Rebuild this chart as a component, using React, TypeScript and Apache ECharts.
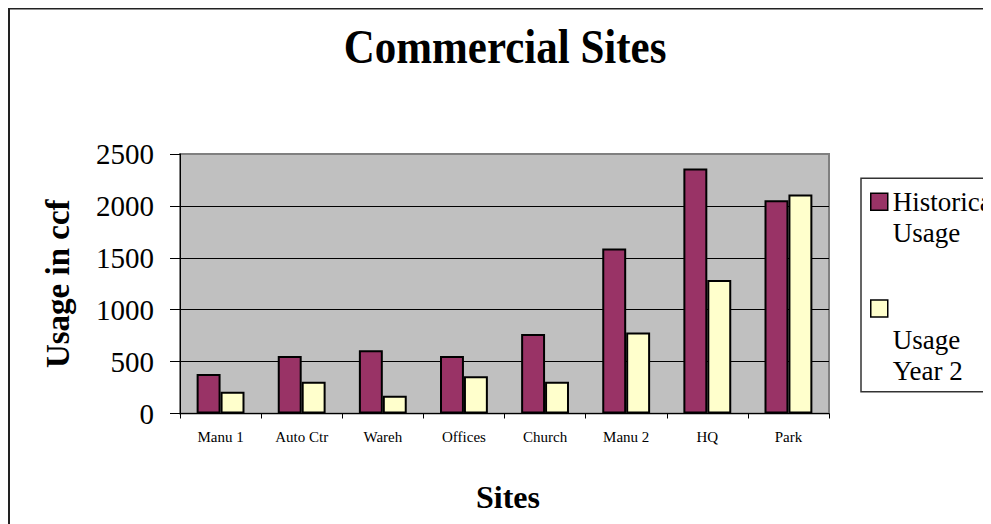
import React, { useEffect, useRef } from "react";
import * as echarts from "echarts";

const categories = ["Manu 1", "Auto Ctr", "Wareh", "Offices", "Church", "Manu 2", "HQ", "Park"];
const historicalUsage = [380, 555, 610, 555, 765, 1590, 2360, 2055];
const usageYear2 = [210, 305, 170, 360, 305, 780, 1285, 2110];
const seriesNames = ["Historical Usage", "Usage Year 2"];
const yTicks = { min: 0, max: 2500, interval: 500 };

const FONT = '"Liberation Serif", "Times New Roman", serif';

export default function App() {
  const ref = useRef<HTMLDivElement>(null);

  useEffect(() => {
    if (!ref.current) return;
    const chart = echarts.init(ref.current, undefined, { renderer: "svg" });
    chart.setOption({
      animation: false,
      backgroundColor: "#ffffff",
      textStyle: { fontFamily: FONT },
      graphic: [
        {
          type: "rect",
          z: 0,
          shape: { x: 1, y: 0.5, width: 1200, height: 1200 },
          style: { fill: "none", stroke: "#222", lineWidth: 2 },
          silent: true,
        },
        {
          type: "rect",
          z: 0,
          shape: { x: 853, y: 170.3, width: 300, height: 213.5 },
          style: { fill: "#fff", stroke: "#333", lineWidth: 1.5 },
          silent: true,
        },
        {
          type: "text",
          z: 5,
          x: 497,
          y: 38.7,
          scaleY: 1.12,
          style: {
            text: "Commercial Sites",
            font: `bold 43px ${FONT}`,
            fill: "#000",
            textAlign: "center",
            textVerticalAlign: "middle",
          },
        },
        {
          type: "text",
          z: 5,
          x: 500,
          y: 488.5,
          style: {
            text: "Sites",
            font: `bold 32px ${FONT}`,
            fill: "#000",
            textAlign: "center",
            textVerticalAlign: "middle",
          },
        },
      ],
      legend: [
        {
          data: [seriesNames[0]],
          orient: "vertical",
          left: 862,
          top: 147.3,
          padding: 0,
          z: 10,
          icon: "rect",
          itemWidth: 17,
          itemHeight: 17,
          itemGap: 0,
          selectedMode: false,
          itemStyle: { borderColor: "#000", borderWidth: 1.5 },
          formatter: () => "\nHistorical\nUsage",
          textStyle: {
            fontFamily: FONT,
            fontSize: 27,
            color: "#000",
            lineHeight: 31,
          },
        },
        {
          data: [seriesNames[1]],
          orient: "vertical",
          left: 862,
          top: 223,
          padding: 0,
          z: 10,
          icon: "rect",
          itemWidth: 17,
          itemHeight: 17,
          itemGap: 0,
          selectedMode: false,
          itemStyle: { borderColor: "#000", borderWidth: 1.5 },
          formatter: () => "\n\n\nUsage\nYear 2",
          textStyle: {
            fontFamily: FONT,
            fontSize: 27,
            color: "#000",
            lineHeight: 31,
          },
        },
      ],
      grid: {
        left: 172,
        top: 146,
        width: 649,
        height: 259.5,
        show: true,
        backgroundColor: "#C0C0C0",
        borderColor: "#808080",
        borderWidth: 2,
        containLabel: false,
      },
      xAxis: {
        type: "category",
        data: categories,
        boundaryGap: true,
        axisLine: { show: true, lineStyle: { color: "#000", width: 1 } },
        axisTick: { show: true, length: 5, lineStyle: { color: "#000", width: 1 } },
        axisLabel: {
          fontFamily: FONT,
          fontSize: 15,
          color: "#000",
          margin: 16,
          interval: 0,
        },
        splitLine: { show: false },
      },
      yAxis: {
        type: "value",
        min: yTicks.min,
        max: yTicks.max,
        interval: yTicks.interval,
        name: "Usage in ccf",
        nameLocation: "middle",
        nameRotate: 90,
        nameGap: 106,
        nameTextStyle: {
          fontFamily: FONT,
          fontSize: 33,
          fontWeight: "bold",
          color: "#000",
        },
        axisLine: { show: true, lineStyle: { color: "#000", width: 1 } },
        axisTick: { show: true, length: 10, lineStyle: { color: "#000", width: 1 } },
        axisLabel: {
          fontFamily: FONT,
          fontSize: 29,
          color: "#000",
          margin: 26,
          formatter: (v: number) => String(v),
        },
        splitLine: {
          show: true,
          lineStyle: {
            color: ["#000", "#000", "#000", "#000", "#000", "#808080"],
            width: 1,
          },
        },
      },
      series: [
        {
          name: seriesNames[0],
          type: "bar",
          data: historicalUsage,
          barGap: "0%",
          barCategoryGap: "41%",
          itemStyle: { color: "#993366", borderColor: "#000", borderWidth: 2 },
        },
        {
          name: seriesNames[1],
          type: "bar",
          data: usageYear2,
          barGap: "0%",
          barCategoryGap: "41%",
          itemStyle: { color: "#FFFFCC", borderColor: "#000", borderWidth: 2 },
        },
      ],
    });
    return () => chart.dispose();
  }, []);

  return <div ref={ref} style={{ width: 983, height: 516 }} />;
}
